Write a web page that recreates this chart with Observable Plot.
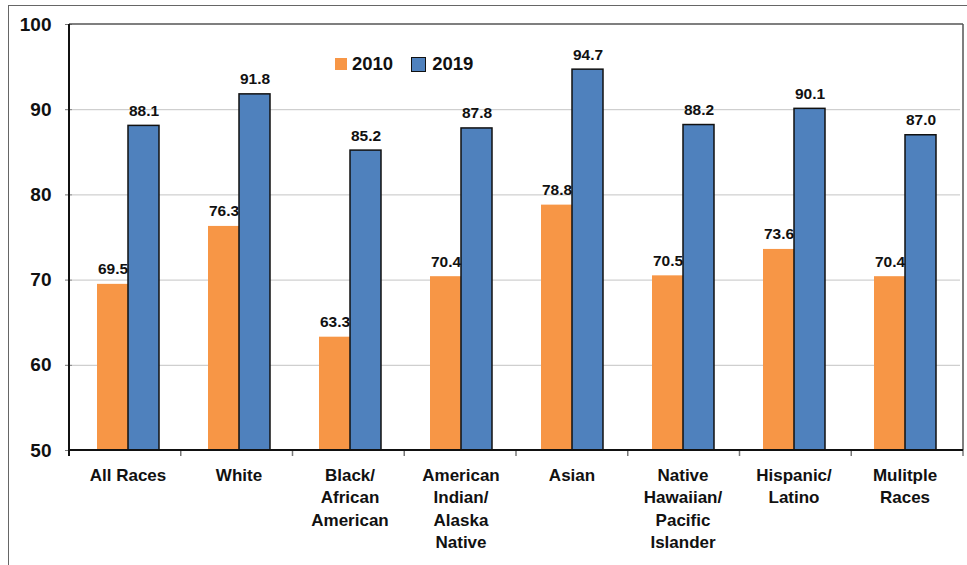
<!DOCTYPE html>
<html><head><meta charset="utf-8">
<script src="https://cdn.jsdelivr.net/npm/d3@7"></script>
<script src="https://cdn.jsdelivr.net/npm/@observablehq/plot@0.6"></script>
<style>
body{margin:0;background:#fff;font-family:"Liberation Sans",Arial,sans-serif;}
#wrap{position:relative;width:967px;height:565px;overflow:hidden;background:#fff;}
#wrap svg{display:block;position:absolute;left:0;top:0;}
#border{position:absolute;left:8px;top:5px;width:980px;height:600px;border-top:1.5px solid #666;border-left:1.5px solid #666;}
#legend{position:absolute;top:53px;left:335px;display:flex;align-items:center;font-weight:bold;font-size:18.5px;color:#111;}
#legend .sw{display:inline-block;box-sizing:border-box;}
</style></head>
<body>
<div id="wrap"><div id="border"></div><div id="legend"></div></div>
<script>
const categories = ["All Races","White","Black/African American","American Indian/Alaska Native","Asian","Native Hawaiian/Pacific Islander","Hispanic/Latino","Mulitple Races"];
const tickLabels = ["All Races","White","Black/\nAfrican\nAmerican","American\nIndian/\nAlaska\nNative","Asian","Native\nHawaiian/\nPacific\nIslander","Hispanic/\nLatino","Mulitple\nRaces"];
const series = ["2010","2019"];
const values2010 = [69.5,76.3,63.3,70.4,78.8,70.5,73.6,70.4];
const values2019 = [88.1,91.8,85.2,87.8,94.7,88.2,90.1,87.0];
const yTicks = [50,60,70,80,90,100];
const colors = ["#F79646","#4F81BD"];

(function(){
const data2010 = categories.map((c,i)=>({cat:c, year:series[0], value:values2010[i]}));
const data2019 = categories.map((c,i)=>({cat:c, year:series[1], value:values2019[i]}));
const data = data2010.concat(data2019);

const plot = Plot.plot({
  width:967, height:565,
  marginTop:24, marginBottom:115, marginLeft:69, marginRight:4,
  style:{fontFamily:"'Liberation Sans', Arial, sans-serif", fontWeight:"bold", background:"transparent", color:"#111"},
  fx:{domain:categories, paddingInner:0, paddingOuter:0, label:null},
  x:{domain:series, paddingInner:0, paddingOuter:0.75, axis:null},
  y:{domain:[50,100], label:null},
  marks:[
    Plot.gridY(yTicks.slice(1,-1), {stroke:"#c4c4c4", strokeOpacity:1, strokeWidth:1}),
    Plot.barY(data2010, {fx:"cat", x:"year", y1:50, y2:"value", fill:colors[0]}),
    Plot.barY(data2019, {fx:"cat", x:"year", y1:50, y2:"value", fill:colors[1], stroke:"#111", strokeWidth:1.5}),
    Plot.text(data, {fx:"cat", x:"year", y:"value", text:d=>d.value.toFixed(1), lineAnchor:"bottom", dy:-10, fontSize:15.5, fontWeight:"bold", fill:"#111"}),
    Plot.axisY({ticks:yTicks, tickSize:7, tickPadding:14, fontSize:19, fontWeight:"bold", stroke:"#777", fill:"#111", label:null}),
    Plot.axisFx({anchor:"bottom", tickSize:0, tickPadding:14, fontSize:17, fontWeight:"bold", lineHeight:1.33, fill:"#111", label:null,
      tickFormat:c=>tickLabels[categories.indexOf(c)]})
  ]
});
document.getElementById("wrap").appendChild(plot);

// frame, axis lines and boundary ticks from the plot's own scales
const fxS = plot.scale("fx"), yS = plot.scale("y");
const band = d3.scaleBand().domain(fxS.domain).range(fxS.range).paddingInner(0).paddingOuter(0);
const xL = band(categories[0]), xR = band(categories[categories.length-1]) + band.bandwidth();
const yT = yS.apply(100), yB = yS.apply(50);
const svg = d3.select(plot);
const g = svg.append("g");
g.append("line").attr("x1",xL).attr("x2",xR).attr("y1",yT).attr("y2",yT).attr("stroke","#555").attr("stroke-width",1.5);
g.append("line").attr("x1",xR).attr("x2",xR).attr("y1",yT).attr("y2",yB).attr("stroke","#555").attr("stroke-width",1.5);
categories.concat([null]).forEach((c)=>{
  const xb = c===null ? xR : band(c);
  g.append("line").attr("x1",xb).attr("x2",xb).attr("y1",yB).attr("y2",yB+6).attr("stroke","#777").attr("stroke-width",1.5);
});
g.append("line").attr("x1",xL).attr("x2",xL).attr("y1",yT).attr("y2",yB+6).attr("stroke","#111").attr("stroke-width",2);
g.append("line").attr("x1",xL).attr("x2",xR).attr("y1",yB).attr("y2",yB).attr("stroke","#111").attr("stroke-width",2.2);

// legend
const lg = document.getElementById("legend");
series.forEach((s,i)=>{
  const sw = document.createElement("span");
  sw.className="sw";
  if(i===0){sw.style.cssText=`width:12px;height:12px;background:${colors[i]};margin-right:5px;`;}
  else{sw.style.cssText=`width:15px;height:15px;background:${colors[i]};border:1.5px solid #111;margin-left:18px;margin-right:6px;`;}
  const t = document.createElement("span");
  t.textContent=s;
  lg.appendChild(sw); lg.appendChild(t);
});
})();
</script>
</body></html>
